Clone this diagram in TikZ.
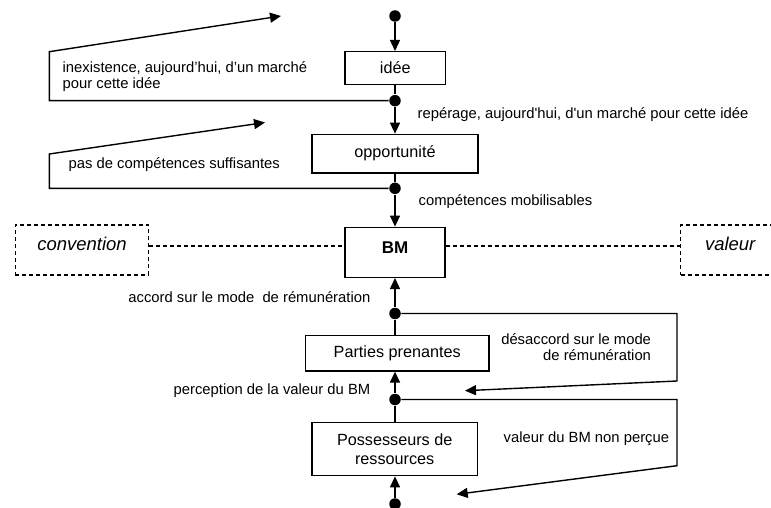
\documentclass[tikz,border=0pt]{standalone}
\usepackage{fontspec}
\setmainfont{Liberation Sans}
\usetikzlibrary{arrows.meta}
\newcommand\dgBoxFont{\fontsize{16.2}{19.3}\selectfont}
\newcommand\dgLblFont{\fontsize{14.8}{16.6}\selectfont}
\newcommand\dgItFont{\fontsize{18.5}{20}\selectfont\itshape}
\begin{document}
\begin{tikzpicture}[x=1pt,y=-1pt,line width=1.4pt,
  stepbox/.style={draw,rectangle,inner sep=0pt,font=\dgBoxFont,align=center},
  dashbox/.style={draw,rectangle,dash pattern=on 4pt off 3pt,inner sep=0pt,
    minimum width=133.4pt,minimum height=50pt,font=\dgItFont,text height=14pt,text depth=14pt},
  dot/.style={circle,fill=black,inner sep=0pt,minimum size=11.5pt},
  lbl/.style={inner sep=0pt,font=\dgLblFont},
  arr/.style={-{Triangle[length=11pt,width=10pt]}},
  dline/.style={dash pattern=on 4pt off 3pt}]
\useasboundingbox (0,0) rectangle (771,508);
\clip (0,0) rectangle (771,508);

% boxes
\node[stepbox,minimum width=100.6pt,minimum height=32.6pt] (idee) at (395.3,68) {idée};
\node[stepbox,minimum width=166pt,minimum height=38.7pt] (opp) at (395,153.7) {opportunité};
\node[stepbox,minimum width=100pt,minimum height=50pt,font=\fontsize{17}{20}\selectfont\bfseries,text height=12pt,text depth=10pt] (bm) at (395,252.3) {BM};
\node[stepbox,minimum width=183.7pt,minimum height=35.3pt] (part) at (397.2,353.3) {Parties prenantes};
\node[stepbox,minimum width=165.3pt,minimum height=53pt] (poss) at (394.7,449.2) {Possesseurs de\\ressources};
\node[dashbox] (conv) at (82,250) {convention};
\node[dashbox,text width=84.8pt,align=left,inner xsep=24.3pt] (val) at (747.4,250) {valeur};

% dots
\node[dot] (d0) at (395,16) {};
\node[dot] (d1) at (395,100.7) {};
\node[dot] (d2) at (395,188.3) {};
\node[dot] (d3) at (395,313.5) {};
\node[dot] (d4) at (395,399.5) {};
\node[dot] (d5) at (395,504) {};

% main axis
\draw[arr] (d0) -- (d0 |- idee.north);
\draw (idee.south -| d1) -- (d1);
\draw[arr] (d1) -- (d1 |- opp.north);
\draw (opp.south -| d2) -- (d2);
\draw[arr] (d2) -- (d2 |- bm.north);
\draw[arr] (d3) -- (d3 |- bm.south);
\draw (part.north -| d3) -- (d3);
\draw[arr] (d4) -- (d4 |- part.south);
\draw (poss.north -| d4) -- (d4);
\draw[arr] (d5) -- (d5 |- poss.south);

% dashed links
\draw[dline] ([yshift=4pt]conv.east) -- ([yshift=4pt]conv.east -| bm.west);
\draw[dline] ([yshift=4pt]conv.east -| bm.east) -- ([yshift=4pt]conv.east -| val.west);

% feedback loops
\coordinate (f1) at (281,16);
\coordinate (f2) at (265,122.5);
\coordinate (f3) at (465,390.7);
\coordinate (f4) at (456.7,494.3);
\draw[arr] (d1) -- (49.3,100.7) -- (49.3,51.7) -- (f1);
\draw[arr] (d2) -- (49.3,188.3) -- (49.3,154) -- (f2);
\draw[arr] (d3) -- (677,313.5) -- (677,381) -- (f3);
\draw[arr] (d4) -- (677,399.5) -- (677,465.7) -- (f4);

% labels
\node[lbl,anchor=west,align=left] (l1) at (62,76.6) {inexistence, aujourd’hui, d’un marché\\pour cette idée};
\node[lbl,anchor=base west] (l2) at (68,168.3) {pas de compétences suffisantes};
\node[lbl,anchor=base west] (l3) at (417,119) {repérage, aujourd\textquotesingle hui, d\textquotesingle un marché pour cette idée};
\node[lbl,anchor=base west] (l4) at (418,205.7) {compétences mobilisables};
\node[lbl,anchor=base east] (l5) at (371,302.7) {accord sur le mode\ \ de rémunération};
\node[lbl,anchor=base east] (l6) at (371,394) {perception de la valeur du BM};
\node[lbl,anchor=east,align=right] (l7) at (651.7,347.3) {désaccord sur le mode\\de rémunération};
\node[lbl,anchor=base west] (l8) at (503,442.7) {valeur du BM non perçue};
\end{tikzpicture}
\end{document}
